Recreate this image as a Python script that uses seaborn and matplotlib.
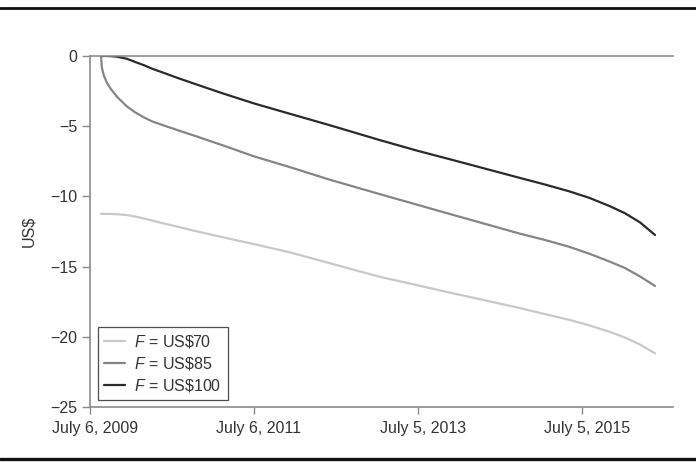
import matplotlib
matplotlib.use("Agg")
import matplotlib.pyplot as plt
import matplotlib.transforms as mtransforms
from matplotlib.lines import Line2D
import seaborn as sns
import pandas as pd

# ---- data ----
dates = ["2009-08-24", "2009-08-28", "2009-09-06", "2009-09-19", "2009-10-07",
         "2009-11-03", "2009-12-18", "2010-01-22", "2010-03-04", "2010-04-08",
         "2010-05-18", "2010-07-29", "2010-10-13", "2011-02-15", "2011-07-07",
         "2011-12-10", "2012-06-06", "2013-01-15", "2013-07-04", "2013-11-24",
         "2014-04-07", "2014-10-02", "2015-01-22", "2015-05-13", "2015-08-11",
         "2015-11-08", "2016-01-14", "2016-03-21", "2016-05-27"]
f70 = [-11.24, -11.24, -11.24, -11.25, -11.25, -11.27, -11.33, -11.43, -11.58, -11.72,
       -11.88, -12.15, -12.45, -12.90, -13.40, -13.97, -14.75, -15.72, -16.33, -16.85,
       -17.32, -17.95, -18.38, -18.80, -19.20, -19.65, -20.05, -20.55, -21.18]
f85 = [0.0, -0.85, -1.40, -1.90, -2.35, -2.90, -3.60, -4.00, -4.38, -4.65,
       -4.88, -5.27, -5.67, -6.35, -7.15, -7.90, -8.80, -9.83, -10.60, -11.25,
       -11.85, -12.65, -13.10, -13.60, -14.10, -14.65, -15.10, -15.70, -16.38]
f100 = [0.0, 0.0, 0.0, 0.0, -0.01, -0.05, -0.20, -0.42, -0.66, -0.90,
        -1.13, -1.55, -1.97, -2.65, -3.38, -4.10, -4.92, -5.98, -6.75, -7.35,
        -7.92, -8.68, -9.15, -9.65, -10.12, -10.70, -11.20, -11.85, -12.75]
series_labels = [r"$F$ = US\$70", r"$F$ = US\$85", r"$F$ = US\$100"]
tick_dates = ["2009-07-06", "2011-07-06", "2013-07-05", "2015-07-05"]
tick_labels = ["July 6, 2009", "July 6, 2011", "July 5, 2013", "July 5, 2015"]
y_ticks = [0, -5, -10, -15, -20, -25]

df = pd.concat([
    pd.DataFrame({"date": pd.to_datetime(dates), "value": vals, "series": lab})
    for vals, lab in zip([f70, f85, f100], series_labels)
], ignore_index=True)

sns.set_style("white")
plt.rcParams["font.family"] = ["Liberation Sans", "DejaVu Sans"]
plt.rcParams["mathtext.fontset"] = "custom"
plt.rcParams["mathtext.rm"] = "Liberation Sans"
plt.rcParams["mathtext.it"] = "Liberation Sans:italic"
plt.rcParams["axes.unicode_minus"] = True

fig = plt.figure(figsize=(6.96, 4.62), dpi=100)
ax = fig.add_axes([90 / 696, 1 - 407 / 462, (673 - 90) / 696, (407 - 56) / 462])

palette = {series_labels[0]: "#c8c8c8", series_labels[1]: "#858585", series_labels[2]: "#2a2a2a"}
sns.lineplot(data=df, x="date", y="value", hue="series", palette=palette,
             linewidth=1.6, ax=ax, legend=True)

ax.set_xlim(pd.Timestamp("2009-07-06"), pd.Timestamp("2016-08-15"))
ax.set_ylim(-25, 0)
ax.set_yticks(y_ticks)
ax.set_xticks(pd.to_datetime(tick_dates))
ax.set_xticklabels(tick_labels)
ax.set_xlabel("")
ax.set_ylabel("US$", fontsize=11.5, color="#333333", labelpad=10)

for s in ["left", "bottom", "top"]:
    ax.spines[s].set_visible(True)
    ax.spines[s].set_color("#8a8a8a")
    ax.spines[s].set_linewidth(1.2)
ax.spines["right"].set_visible(False)

ax.tick_params(axis="both", which="major", direction="out", length=6, width=1,
               color="#8a8a8a", labelcolor="#333333", labelsize=11.5)
ax.tick_params(axis="y", left=True, pad=3)
ax.tick_params(axis="x", bottom=True, length=5, pad=5)

offset = mtransforms.ScaledTranslation(5 / 100, 0, fig.dpi_scale_trans)
for lbl in ax.get_xticklabels():
    lbl.set_transform(lbl.get_transform() + offset)

leg = ax.legend(loc="lower left", bbox_to_anchor=(8 / 583, 7 / 351), borderaxespad=0,
                frameon=True, fancybox=False, edgecolor="#222222", fontsize=11.5,
                handlelength=1.3, handletextpad=0.55, labelspacing=0.3, borderpad=0.4,
                title=None)
leg.get_frame().set_linewidth(0.9)
for t in leg.get_texts():
    t.set_color("#333333")

fig.add_artist(Line2D([0, 1], [1 - 7.5 / 462, 1 - 7.5 / 462], transform=fig.transFigure,
                      color="#111111", linewidth=2.0))
fig.add_artist(Line2D([0, 1], [1 - 459 / 462, 1 - 459 / 462], transform=fig.transFigure,
                      color="#111111", linewidth=2.4))

fig.savefig("out.png", dpi=100)
